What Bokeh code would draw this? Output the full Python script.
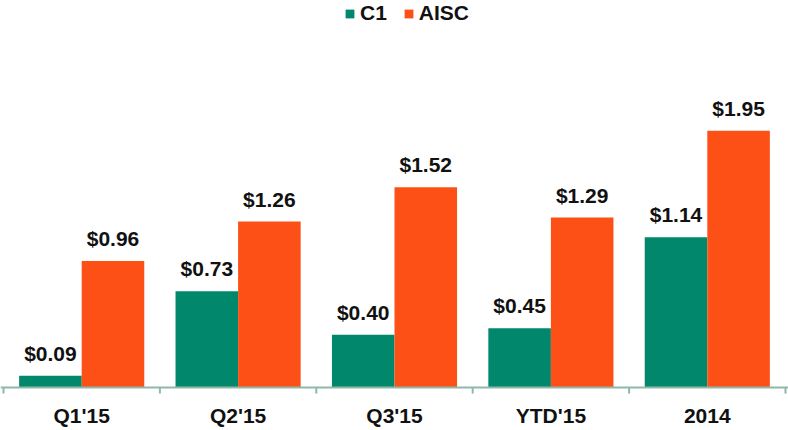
from bokeh.plotting import figure
from bokeh.models import ColumnDataSource, LabelSet, Legend, LegendItem, Range1d, Span
from bokeh.core.properties import value
from bokeh.embed import file_html
from bokeh.resources import INLINE

categories = ["Q1'15", "Q2'15", "Q3'15", "YTD'15", "2014"]
c1 = [0.09, 0.73, 0.40, 0.45, 1.14]
aisc = [0.96, 1.26, 1.52, 1.29, 1.95]
series_names = ["C1", "AISC"]
colors = ["#00876c", "#fc5017"]

FONT = "Liberation Sans"
AXIS_COLOR = "#8fb8a8"
n = len(categories)
centers = [i + 0.5 for i in range(n)]
bounds = list(range(n + 1))
bar_w = 0.4

p = figure(width=788, height=430, output_backend="svg", toolbar_location=None,
           x_range=Range1d(-0.0192, n + 0.0192), y_range=Range1d(-0.3265, 2.9385),
           x_axis_location=None, y_axis_location=None, title=None,
           min_border_left=0, min_border_right=0, min_border_top=0, min_border_bottom=0)
p.outline_line_color = None
p.xgrid.visible = False
p.ygrid.visible = False

renderers = []
for k, (name, vals, col) in enumerate(zip(series_names, [c1, aisc], colors)):
    off = (k - 0.5) * bar_w
    src = ColumnDataSource(dict(x=[c + off for c in centers], top=vals,
                                lab=["$%.2f" % v for v in vals]))
    r = p.vbar(x="x", top="top", width=bar_w, bottom=0, source=src,
               fill_color=col, line_color=None)
    renderers.append(r)
    lbl = LabelSet(x="x", y="top", text="lab", source=src, text_align="center",
                   text_baseline="alphabetic", y_offset=15, text_font=value(FONT),
                   text_font_style="bold", text_font_size="21px", text_color="#111111")
    p.add_layout(lbl)

# baseline axis and boundary ticks
p.add_layout(Span(location=0, dimension="width", line_color=AXIS_COLOR, line_width=2))
p.segment(x0=bounds, y0=[0] * len(bounds), x1=bounds, y1=[-0.046] * len(bounds),
          line_color=AXIS_COLOR, line_width=2)

cat_src = ColumnDataSource(dict(x=centers, y=[0] * n, lab=categories))
cat_lbl = LabelSet(x="x", y="y", text="lab", source=cat_src, text_align="center",
                   text_baseline="alphabetic", y_offset=-35, text_font=value(FONT),
                   text_font_style="bold", text_font_size="21px", text_color="#111111")
p.add_layout(cat_lbl)

legend = Legend(items=[LegendItem(label=s, renderers=[r]) for s, r in zip(series_names, renderers)],
                location=(344, 405), orientation="horizontal",
                glyph_width=11, glyph_height=11, label_standoff=5, spacing=16,
                padding=0, margin=0, border_line_color=None, background_fill_alpha=0,
                label_text_font=FONT, label_text_font_style="bold",
                label_text_font_size="21px", label_text_color="#111111")
p.add_layout(legend)

open("out.html", "w").write(file_html(p, INLINE))
